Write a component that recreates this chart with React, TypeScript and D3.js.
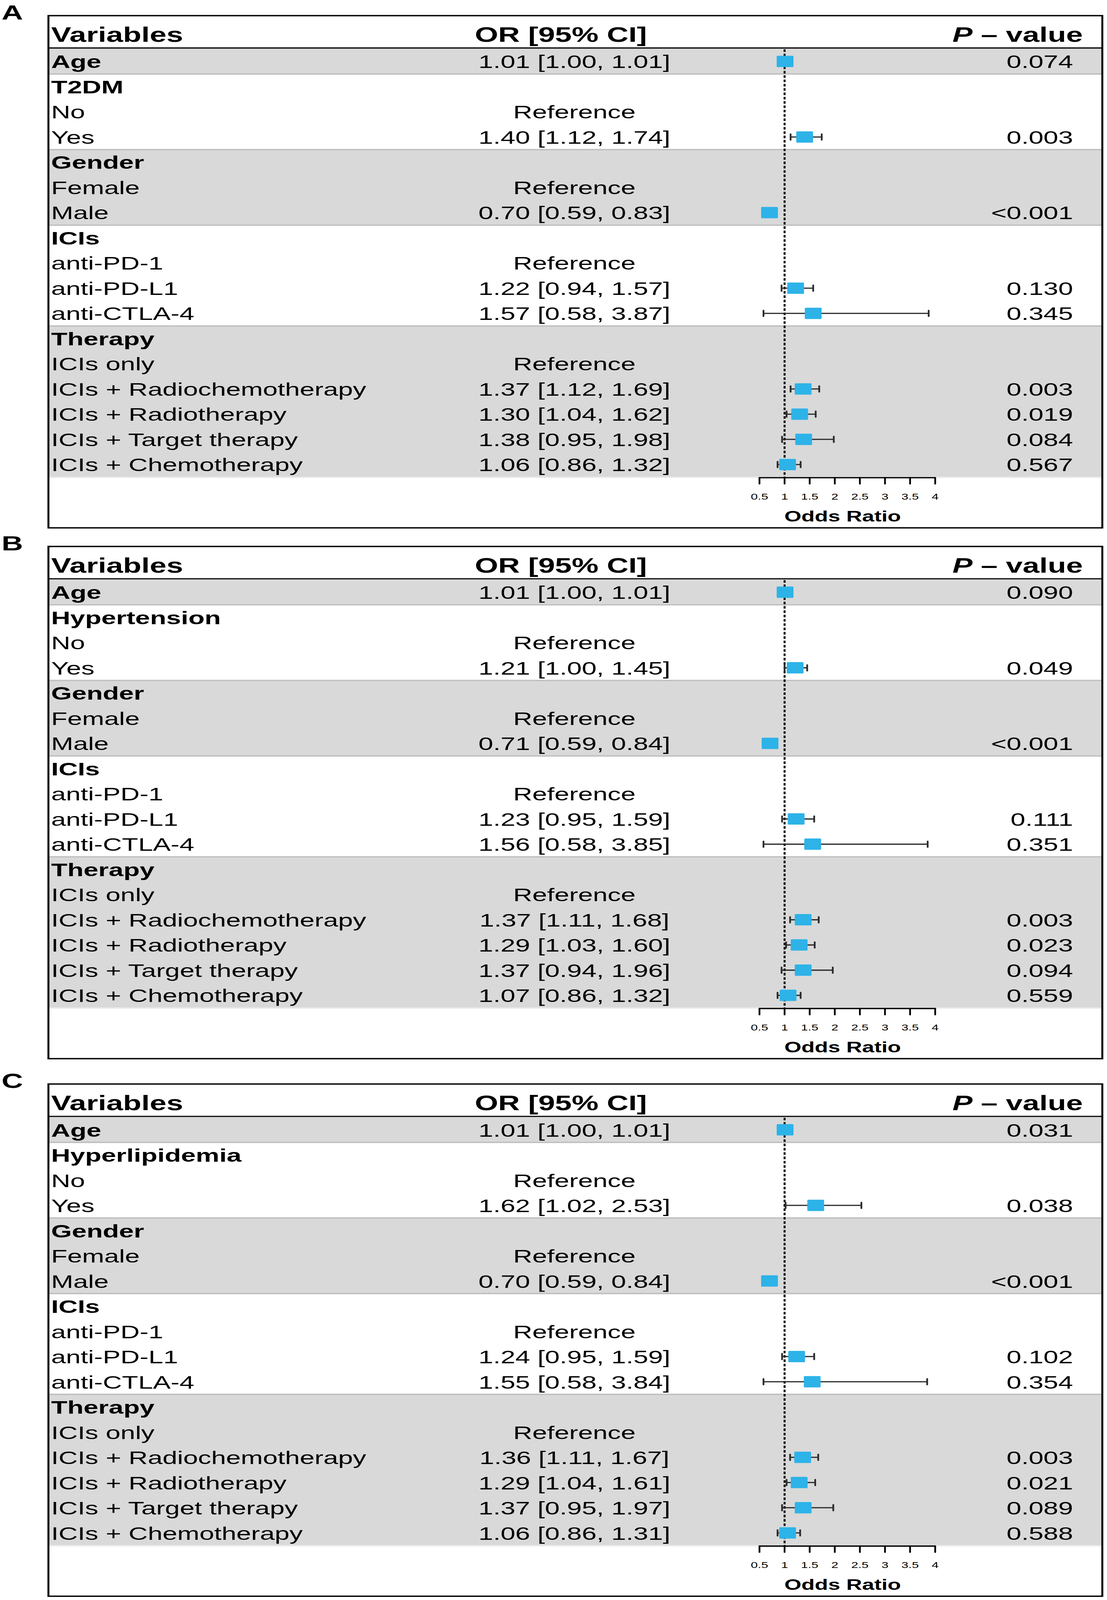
import React from "react";
import * as d3 from "d3";

const W = 2835;
const H = 5932;

const panelLetters = ["A", "B", "C"];
const conditionNames = ["T2DM", "Hypertension", "Hyperlipidemia"];
const rowLabelsBase = [
  "Age", "", "No", "Yes", "Gender", "Female", "Male", "ICIs", "anti-PD-1",
  "anti-PD-L1", "anti-CTLA-4", "Therapy", "ICIs only",
  "ICIs + Radiochemotherapy", "ICIs + Radiotherapy", "ICIs + Target therapy",
  "ICIs + Chemotherapy",
];
const boldRows = [0, 1, 4, 7, 11];
const referenceRows = [2, 5, 8, 12];
const rowGroups = [0, 1, 1, 1, 2, 2, 2, 3, 3, 3, 3, 4, 4, 4, 4, 4, 4];
const tickValues = [0.5, 1, 1.5, 2, 2.5, 3, 3.5, 4];

// Panel A (T2DM)
const orA = [1.01, null, null, 1.40, null, null, 0.70, null, null, 1.22, 1.57, null, null, 1.37, 1.30, 1.38, 1.06];
const loA = [1.00, null, null, 1.12, null, null, 0.59, null, null, 0.94, 0.58, null, null, 1.12, 1.04, 0.95, 0.86];
const hiA = [1.01, null, null, 1.74, null, null, 0.83, null, null, 1.57, 3.87, null, null, 1.69, 1.62, 1.98, 1.32];
const pA = ["0.074", "", "", "0.003", "", "", "<0.001", "", "", "0.130", "0.345", "", "", "0.003", "0.019", "0.084", "0.567"];

// Panel B (Hypertension)
const orB = [1.01, null, null, 1.21, null, null, 0.71, null, null, 1.23, 1.56, null, null, 1.37, 1.29, 1.37, 1.07];
const loB = [1.00, null, null, 1.00, null, null, 0.59, null, null, 0.95, 0.58, null, null, 1.11, 1.03, 0.94, 0.86];
const hiB = [1.01, null, null, 1.45, null, null, 0.84, null, null, 1.59, 3.85, null, null, 1.68, 1.60, 1.96, 1.32];
const pB = ["0.090", "", "", "0.049", "", "", "<0.001", "", "", "0.111", "0.351", "", "", "0.003", "0.023", "0.094", "0.559"];

// Panel C (Hyperlipidemia)
const orC = [1.01, null, null, 1.62, null, null, 0.70, null, null, 1.24, 1.55, null, null, 1.36, 1.29, 1.37, 1.06];
const loC = [1.00, null, null, 1.02, null, null, 0.59, null, null, 0.95, 0.58, null, null, 1.11, 1.04, 0.95, 0.86];
const hiC = [1.01, null, null, 2.53, null, null, 0.84, null, null, 1.59, 3.84, null, null, 1.67, 1.61, 1.97, 1.31];
const pC = ["0.031", "", "", "0.038", "", "", "<0.001", "", "", "0.102", "0.354", "", "", "0.003", "0.021", "0.089", "0.588"];

const panelOffsets = [0, 1968, 3961];

const FONT = "'Liberation Sans', Arial, Helvetica, sans-serif";

type PanelProps = {
  letter: string;
  cond: string;
  or: (number | null)[];
  lo: (number | null)[];
  hi: (number | null)[];
  p: string[];
  off: number;
};

function Panel({ letter, cond, or, lo, hi, p, off }: PanelProps) {
  const boxLeft = 124;
  const boxRight = 2823;
  const boxTop = 58;
  const boxBottom = 1957;
  const rowsTop = 181;
  const rowsBottom = 1769;
  const labels = rowLabelsBase.map((l, i) => (i === 1 ? cond : l));
  const idx = labels.map((_, i) => i);
  const y = d3.scaleBand<number>().domain(idx).range([rowsTop, rowsBottom]).padding(0);
  const bw = y.bandwidth();
  const x = d3.scaleLinear().domain([0.5, 4]).range([1945, 2395]);
  const fmt = d3.format(".2f");
  const boxW = 43;
  const boxH = 42;
  const groupBoundaries = idx.filter((i) => i < labels.length - 1 && rowGroups[i] !== rowGroups[i + 1]);

  return (
    <g transform={`translate(0,${off})`}>
      <text x={4} y={72} fontFamily={FONT} fontWeight="bold" fontSize={76}>{letter}</text>
      {idx.map((i) =>
        rowGroups[i] % 2 === 0 ? (
          <rect key={"b" + i} x={boxLeft} y={y(i)!} width={boxRight - boxLeft} height={bw + 0.5} fill="#D9D9D9" />
        ) : null
      )}
      {groupBoundaries.map((i) => (
        <line key={"s" + i} x1={boxLeft} x2={boxRight} y1={y(i)! + bw} y2={y(i)! + bw} stroke="#BFBFBF" strokeWidth={5} />
      ))}
      <line x1={boxLeft} x2={boxRight} y1={rowsBottom + 1} y2={rowsBottom + 1} stroke="#EDEDED" strokeWidth={5} />
      <text x={131} y={155} fontFamily={FONT} fontWeight="bold" fontSize={77}>Variables</text>
      <text x={1216} y={155} fontFamily={FONT} fontWeight="bold" fontSize={77}>OR [95% CI]</text>
      <text x={2773} y={155} fontFamily={FONT} fontWeight="bold" fontSize={77} textAnchor="end">
        <tspan fontStyle="italic">P</tspan> – value
      </text>
      <line x1={boxLeft} x2={boxRight} y1={178} y2={178} stroke="#000" strokeWidth={4.5} />
      {idx.map((i) => {
        const cy = y(i)! + bw / 2;
        const orText = or[i] != null ? `${fmt(or[i]!)} [${fmt(lo[i]!)}, ${fmt(hi[i]!)}]` : referenceRows.includes(i) ? "Reference" : "";
        return (
          <g key={"t" + i} fontFamily={FONT} fontSize={68}>
            <text x={131} y={cy + 25} fontWeight={boldRows.includes(i) ? "bold" : "normal"}>{labels[i]}</text>
            {orText && <text x={1471} y={cy + 25} textAnchor="middle">{orText}</text>}
            {p[i] && <text x={2748} y={cy + 25} textAnchor="end">{p[i]}</text>}
          </g>
        );
      })}
      <line x1={x(1)} x2={x(1)} y1={rowsTop + 2} y2={rowsBottom} stroke="#000" strokeWidth={5} strokeDasharray="9.5 6.5" />
      {idx.map((i) => {
        if (or[i] == null) return null;
        const cy = y(i)! + bw / 2;
        const x1 = x(lo[i]!);
        const x2 = x(hi[i]!);
        return (
          <g key={"m" + i} stroke="#2B2B2B" strokeLinecap="round">
            <line x1={x1} x2={x2} y1={cy} y2={cy} strokeWidth={4.5} strokeLinecap="butt" />
            <line x1={x1} x2={x1} y1={cy - 11} y2={cy + 11} strokeWidth={4.5} />
            <line x1={x2} x2={x2} y1={cy - 11} y2={cy + 11} strokeWidth={4.5} />
            <rect x={x(or[i]!) - boxW / 2} y={cy - boxH / 2} width={boxW} height={boxH} rx={3} fill="#2DB3E8" stroke="none" />
          </g>
        );
      })}
      <line x1={x(0.5)} x2={x(4)} y1={rowsBottom + 2} y2={rowsBottom + 2} stroke="#000" strokeWidth={5} strokeLinecap="round" />
      {tickValues.map((t) => (
        <g key={"k" + t}>
          <line x1={x(t)} x2={x(t)} y1={rowsBottom + 2} y2={rowsBottom + 25} stroke="#000" strokeWidth={4.5} strokeLinecap="round" />
          <text x={x(t)} y={1852} textAnchor="middle" fontFamily={FONT} fontSize={32}>{String(t)}</text>
        </g>
      ))}
      <text x={2158} y={1933} textAnchor="middle" fontFamily={FONT} fontWeight="bold" fontSize={56}>Odds Ratio</text>
      <rect x={boxLeft} y={boxTop} width={boxRight - boxLeft} height={boxBottom - boxTop} fill="none" stroke="#000" strokeWidth={5} />
    </g>
  );
}

export default function App() {
  const panels = [
    { or: orA, lo: loA, hi: hiA, p: pA },
    { or: orB, lo: loB, hi: hiB, p: pB },
    { or: orC, lo: loC, hi: hiC, p: pC },
  ];
  return (
    <svg
      viewBox={`0 0 ${W} ${H}`}
      preserveAspectRatio="none"
      style={{ position: "fixed", left: 0, top: 0, width: "100vw", height: "100vh", background: "#fff", display: "block" }}
    >
      <rect x={0} y={0} width={W} height={H} fill="#fff" />
      {panels.map((pd, k) => (
        <Panel key={k} letter={panelLetters[k]} cond={conditionNames[k]} or={pd.or} lo={pd.lo} hi={pd.hi} p={pd.p} off={panelOffsets[k]} />
      ))}
    </svg>
  );
}
